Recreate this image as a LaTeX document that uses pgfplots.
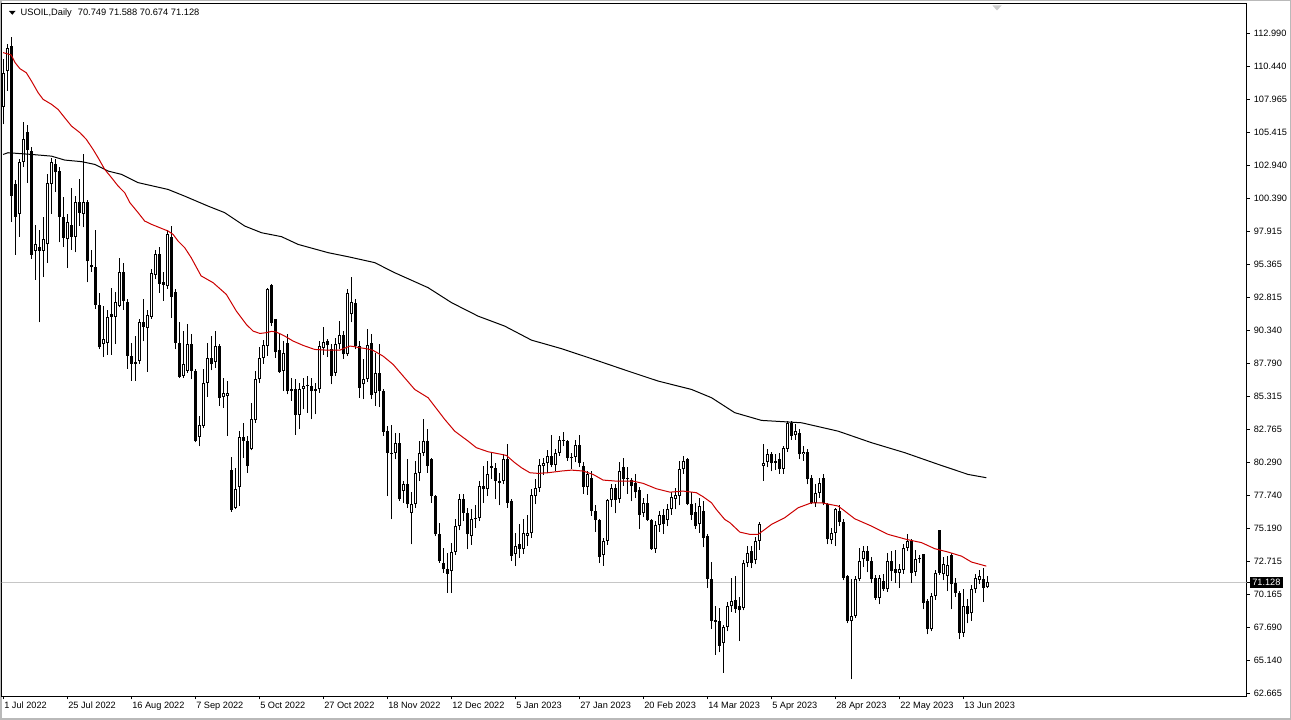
\documentclass[border=0pt]{standalone}
\usepackage{pgfplots}
\pgfplotsset{compat=1.18}
\usepackage{pgfplotstable}
\usepackage{fontspec}
\setmainfont{Liberation Sans}
\definecolor{maRed}{RGB}{204,0,0}

\pgfplotstableread{
i o h l c
0 107.40 111.00 106.05 110.00
1 110.10 112.15 108.60 111.90
2 112.00 112.70 98.60 100.60
3 101.50 101.80 96.10 99.00
4 99.20 103.40 97.50 103.15
5 103.20 106.20 102.80 104.90
6 105.50 106.00 101.60 104.10
7 104.00 104.30 95.80 96.10
8 96.40 98.40 94.20 96.90
9 96.70 98.00 90.95 96.40
10 96.40 99.00 94.40 97.30
11 96.90 102.30 95.50 101.60
12 101.50 103.50 99.20 103.15
13 103.00 103.40 100.90 102.40
14 102.50 102.80 97.05 99.00
15 99.00 100.50 96.70 97.40
16 97.30 99.20 95.10 98.60
17 98.40 101.20 96.50 97.50
18 97.50 100.60 96.30 100.10
19 100.10 101.90 98.30 99.30
20 99.20 103.80 98.20 100.10
21 100.10 100.30 94.00 95.60
22 95.30 96.50 94.80 95.20
23 95.20 98.00 92.00 92.30
24 92.30 93.20 88.90 89.05
25 89.30 92.20 88.30 89.70
26 89.40 91.90 88.50 91.40
27 91.60 93.60 88.50 91.40
28 91.40 93.30 89.30 92.50
29 92.20 95.90 92.10 94.80
30 94.80 95.50 91.90 92.60
31 92.50 92.70 87.40 88.40
32 88.40 89.40 86.50 87.80
33 87.80 89.90 86.50 87.90
34 88.00 91.20 87.80 90.95
35 91.00 92.70 89.50 90.60
36 90.50 91.90 87.20 91.50
37 91.40 95.00 91.20 94.70
38 94.60 96.50 94.30 96.20
39 96.20 96.70 93.20 93.90
40 94.00 94.80 92.60 93.80
41 93.70 98.00 93.50 97.70
42 97.50 98.30 91.30 92.90
43 93.30 93.50 88.90 89.40
44 89.40 90.95 86.70 86.80
45 86.90 90.30 86.70 87.80
46 87.25 90.80 87.10 89.30
47 89.30 90.05 86.60 87.25
48 87.25 87.40 81.80 81.90
49 82.24 83.80 81.50 83.10
50 83.05 87.40 82.90 86.35
51 86.35 89.35 85.30 88.26
52 88.26 89.90 87.30 87.75
53 87.93 90.30 87.50 89.15
54 89.15 89.30 84.60 85.20
55 85.30 86.70 84.45 85.60
56 85.34 86.50 82.30 85.54
57 79.67 80.70 76.50 76.64
58 76.82 79.87 76.70 78.27
59 78.42 82.67 76.95 82.24
60 82.24 83.30 80.60 81.90
61 81.90 82.30 79.50 80.00
62 81.27 84.80 81.20 83.60
63 83.50 87.24 83.30 86.66
64 86.60 89.10 86.30 88.26
65 88.26 89.60 87.80 89.20
66 89.15 93.60 88.40 93.47
67 93.80 93.85 90.67 90.93
68 91.18 91.20 88.26 88.69
69 88.82 90.17 87.10 87.19
70 87.24 89.53 85.72 88.64
71 89.35 90.04 85.46 85.72
72 85.85 86.74 84.96 85.72
73 85.85 86.60 82.40 83.89
74 83.89 86.35 82.80 85.85
75 85.90 86.74 84.32 86.10
76 86.10 86.86 84.07 86.08
77 86.10 86.74 83.56 85.72
78 85.72 86.35 83.94 85.85
79 85.85 89.53 85.60 89.15
80 89.02 90.62 88.50 89.45
81 89.53 89.66 88.30 89.20
82 88.90 89.28 86.23 86.86
83 87.12 89.80 86.90 89.28
84 89.28 91.06 88.90 89.96
85 89.96 90.30 88.20 88.51
86 88.51 93.52 88.39 93.22
87 91.56 94.40 90.95 92.48
88 92.45 92.70 88.90 89.15
89 89.15 89.53 85.20 85.97
90 86.23 88.13 85.08 86.60
91 86.60 90.42 86.40 89.20
92 89.35 90.04 85.08 85.39
93 85.60 88.60 84.60 87.12
94 87.12 89.28 84.50 85.70
95 85.72 85.85 82.30 82.60
96 82.67 83.05 77.70 81.02
97 81.00 83.10 75.93 80.95
98 81.02 82.54 80.50 81.78
99 81.78 82.54 77.33 77.46
100 78.09 78.85 77.20 78.60
101 78.60 80.50 76.80 77.08
102 76.44 78.00 74.03 77.08
103 77.08 80.38 76.82 79.49
104 79.49 81.90 78.85 81.02
105 81.02 83.56 80.76 81.90
106 81.90 82.80 79.50 80.00
107 80.51 80.64 77.20 77.71
108 77.71 77.80 74.66 74.79
109 74.80 75.68 72.63 72.76
110 72.63 73.77 71.87 72.12
111 72.12 73.40 70.34 71.80
112 71.99 74.15 70.34 73.44
113 73.44 75.93 73.20 75.42
114 75.42 77.84 75.10 77.51
115 77.51 77.84 75.80 76.44
116 76.44 76.82 73.65 74.79
117 74.66 76.70 74.00 75.93
118 75.93 77.00 75.30 76.06
119 76.06 78.85 75.80 78.47
120 78.47 80.00 77.20 78.22
121 78.22 80.38 77.70 79.36
122 80.00 81.00 79.00 79.87
123 79.87 80.20 77.46 78.85
124 78.85 79.50 77.00 78.70
125 78.85 80.89 78.60 80.51
126 80.56 81.65 76.82 77.20
127 77.33 77.50 72.76 73.14
128 73.27 74.90 72.37 73.90
129 74.03 75.55 73.00 73.65
130 73.65 75.93 73.30 74.90
131 74.70 76.30 73.90 74.90
132 74.86 78.22 74.50 77.76
133 77.71 78.98 77.07 78.35
134 78.35 80.50 78.00 80.05
135 80.00 80.60 79.30 80.20
136 80.20 81.20 79.50 80.80
137 80.80 82.40 79.90 80.10
138 80.10 81.30 79.60 81.00
139 81.00 82.30 80.80 82.00
140 82.00 82.60 81.50 81.90
141 81.90 82.00 80.40 80.60
142 80.60 81.00 79.80 80.70
143 80.70 82.00 80.30 81.60
144 81.60 82.40 79.90 80.20
145 80.00 80.30 77.90 78.40
146 78.40 79.60 77.80 79.40
147 79.10 79.60 76.20 76.60
148 76.60 77.00 75.00 75.90
149 75.90 76.00 72.60 73.10
150 73.20 74.50 72.40 74.30
151 74.30 77.50 74.00 77.40
152 77.40 78.60 76.90 78.35
153 78.35 78.60 76.40 77.40
154 77.50 80.30 77.20 79.60
155 79.90 80.60 78.50 79.00
156 79.00 79.90 77.90 79.10
157 78.90 79.10 77.30 78.50
158 78.70 79.40 77.60 78.00
159 78.20 78.40 75.20 76.30
160 76.40 77.60 76.10 77.20
161 77.15 77.85 75.80 75.90
162 75.90 76.00 73.60 73.65
163 73.65 75.80 73.40 75.50
164 75.50 76.60 75.00 76.30
165 76.30 76.70 74.80 75.55
166 75.90 77.10 75.40 76.70
167 76.70 78.00 76.30 77.66
168 77.50 78.30 76.70 77.76
169 77.70 80.40 77.00 79.75
170 79.75 80.80 79.40 80.40
171 80.50 80.60 77.00 77.10
172 77.10 78.00 75.90 76.30
173 76.50 77.20 75.20 75.40
174 75.55 77.60 74.90 76.95
175 76.60 77.30 73.80 74.50
176 74.66 74.80 70.70 71.40
177 71.40 72.70 67.60 68.20
178 68.26 69.30 65.60 68.13
179 68.20 69.20 65.80 66.30
180 66.50 67.90 64.24 67.70
181 67.70 69.60 67.40 69.30
182 69.30 71.50 68.90 69.70
183 69.80 71.60 68.80 69.10
184 69.30 70.00 66.65 69.00
185 69.20 72.80 69.00 72.60
186 72.60 73.90 72.30 73.40
187 73.50 73.90 72.20 72.60
188 72.80 74.60 72.50 74.30
189 74.30 75.70 73.60 75.55
190 80.00 81.65 78.86 80.26
191 80.30 81.30 79.90 80.89
192 80.89 81.10 79.60 80.20
193 80.26 80.90 79.70 80.38
194 80.51 81.00 79.40 79.80
195 79.80 81.50 79.40 81.40
196 81.32 83.43 81.10 83.30
197 83.30 83.43 82.00 82.29
198 82.34 83.20 82.00 82.67
199 82.54 82.80 80.51 80.89
200 80.90 81.50 80.40 81.07
201 81.07 81.27 78.60 78.98
202 79.11 79.30 77.10 77.20
203 77.15 78.60 76.90 77.97
204 77.97 79.11 77.60 78.73
205 79.11 79.40 77.00 77.20
206 77.08 77.20 74.03 74.40
207 74.36 75.30 74.03 74.87
208 74.92 76.82 73.90 76.70
209 76.60 77.00 75.40 75.73
210 75.73 76.00 71.30 71.49
211 71.61 71.70 68.00 68.18
212 68.18 71.36 63.73 68.56
213 68.56 71.60 68.40 71.36
214 71.36 73.77 71.20 72.76
215 72.88 73.90 72.30 73.52
216 73.52 73.90 71.90 72.76
217 72.76 73.10 71.10 71.36
218 71.49 71.70 69.80 69.96
219 69.96 71.70 69.45 71.49
220 71.23 71.80 70.50 70.60
221 70.60 73.39 70.40 72.76
222 72.76 73.50 71.20 71.99
223 72.12 73.60 71.10 71.87
224 71.87 72.50 70.70 72.12
225 72.07 74.03 71.80 73.77
226 73.77 74.79 73.50 74.28
227 74.28 74.40 71.10 71.87
228 71.92 73.60 71.60 72.88
229 72.90 73.20 72.60 73.00
230 73.26 73.30 69.07 69.57
231 69.70 69.90 67.16 67.55
232 67.55 70.30 67.40 70.09
233 70.09 72.10 69.80 71.87
234 75.12 75.12 71.70 71.87
235 71.74 73.10 71.30 72.50
236 71.61 73.14 70.47 72.42
237 73.19 73.40 69.07 70.98
238 71.10 71.50 70.00 70.34
239 70.34 70.50 66.79 67.30
240 67.30 70.60 67.00 69.32
241 69.32 69.90 68.00 68.69
242 68.77 70.90 68.20 70.60
243 70.60 71.80 70.30 71.49
244 71.30 72.10 71.00 71.61
245 71.36 72.25 69.63 70.72
246 70.749 71.588 70.674 71.128
}\candles

\pgfplotstableread{
i ma
0 111.52
2 111.35
3 110.76
4.2 110.30
5.8 109.99
7.1 109.35
8.75 108.47
10 107.96
12.1 107.58
13.75 107.19
15.4 106.56
17.1 105.92
19.2 105.42
20.8 104.91
22.5 104.14
23.75 103.51
25.4 102.62
27.1 101.99
28.75 101.35
30.4 100.84
31.7 100.08
33.75 99.32
35.4 98.68
37.1 98.43
39.6 98.12
41.25 97.92
42.5 97.66
43.75 97.15
45.4 96.65
47 95.90
49.5 94.50
52.5 93.98
55.8 93.09
58.3 91.82
60.8 90.80
62.5 90.29
64.2 90.11
65.8 90.17
67.1 90.27
68.3 90.22
70.4 89.91
72.5 89.53
75 89.20
77.9 88.89
80.8 88.84
84.2 88.84
86.7 89.15
87.9 89.10
89.2 89.02
90.8 88.95
92.5 88.82
95 88.38
97.5 87.75
102.9 85.84
106.25 85.21
110.4 83.56
112.9 82.66
116.25 81.90
118.3 81.40
121.25 81.09
124.6 80.89
125.8 80.81
127.9 80.26
129.6 79.87
131.7 79.49
133.75 79.44
136.25 79.49
139.6 79.62
142.1 79.69
145 79.62
147.5 79.36
150 78.93
153.3 78.85
157.5 78.85
160 78.68
163.3 78.27
166.7 78.01
170 78.09
173.3 77.97
175 77.66
177.1 77.20
178.3 76.69
180.4 75.93
181.7 75.68
184.2 74.96
186.7 74.79
188.75 74.79
192.1 75.55
195.4 76.06
198.75 76.82
202.1 77.20
204.6 77.20
208.75 76.95
210.4 76.57
212.9 75.98
217.1 75.42
221.25 74.79
225.8 74.41
229.6 74.16
232.9 73.70
236.25 73.44
239.6 73.13
242.1 72.68
245.8 72.37
}\maFifty

\pgfplotstableread{
i ma
0 103.76
1.25 103.89
7.1 103.76
12.1 103.63
15.4 103.33
19.6 103.21
22.9 103.00
26.25 102.49
29.6 102.24
33.75 101.61
41.25 101.09
45.4 100.58
51.25 99.82
55.4 99.32
60.4 98.30
64.6 97.79
69.6 97.49
73.75 96.90
81.25 96.27
86.25 95.96
92.9 95.51
97.9 94.74
106.25 93.60
112.1 92.46
118.75 91.43
125.4 90.67
132.1 89.60
139.6 88.95
147.1 88.19
156.25 87.24
163.75 86.48
172.1 85.84
177.1 85.21
182.9 84.07
189.6 83.48
199.6 83.30
208.75 82.66
217.1 81.78
225.4 81.02
233.75 80.13
241.25 79.36
245.8 79.11
}\maTwoHundred

\begin{document}
\begin{tikzpicture}[x=1pt,y=1pt]
\path[use as bounding box] (0,0) rectangle (1291,720);
\fill[white] (0,0) rectangle (1291,720);
\draw[gray!55, line width=1.5pt] (0.75,0.75) rectangle (1290.25,719.25);
\begin{axis}[
  name=ax,
  at={(4,18)}, anchor=south west,
  scale only axis, width=1245pt, height=693pt,
  xmin=-0.375, xmax=310.875, ymin=62.437, ymax=115.277,
  axis line style={black, line width=1pt},
  tick align=outside,
  major tick length=3pt,
  tick style={black, line width=1pt},
  xtick pos=left, ytick pos=right, yticklabel pos=right,
  xtick={0,16,32,48,64,80,96,112,128,144,160,176,192,208,224,240},
  xticklabels={1 Jul 2022,25 Jul 2022,16 Aug 2022,7 Sep 2022,5 Oct 2022,27 Oct 2022,18 Nov 2022,12 Dec 2022,5 Jan 2023,27 Jan 2023,20 Feb 2023,14 Mar 2023,5 Apr 2023,28 Apr 2023,22 May 2023,13 Jun 2023},
  ytick={112.99,110.4738,107.9576,105.4414,102.9252,100.409,97.8928,95.3766,92.8604,90.3442,87.828,85.3118,82.7956,80.2794,77.7632,75.247,72.7308,70.2146,67.6984,65.1822,62.666},
  yticklabels={112.990,110.440,107.965,105.415,102.940,100.390,97.915,95.365,92.815,90.340,87.790,85.315,82.765,80.290,77.740,75.190,72.715,70.165,67.690,65.140,62.665},
  tick label style={font=\fontsize{9.2}{11}\selectfont, black},
  xticklabel style={anchor=north west, inner xsep=1pt, inner ysep=2pt},
  yticklabel style={anchor=west, inner xsep=2pt, xshift=2pt},
  extra y ticks={71.128},
  extra y tick labels={71.128},
  extra y tick style={yticklabel style={fill=black, text=white, inner xsep=2.5pt, inner ysep=2.5pt, xshift=-2pt}},
]
% current price line
\addplot[forget plot, color=gray!45, line width=1pt] coordinates {(-1,71.128) (312,71.128)};
% wicks
\addplot[forget plot, draw=none, mark=none,
  error bars/.cd, y dir=plus, y explicit, error mark=none,
  error bar style={draw=black, line width=1pt}]
  table[x=i, y=l, y error plus expr={\thisrow{h}-\thisrow{l}}] {\candles};
% bodies (black)
\addplot[forget plot, draw=none, mark=none,
  error bars/.cd, y dir=plus, y explicit, error mark=none,
  error bar style={draw=black, line width=3pt}]
  table[x=i, y expr={min(\thisrow{o},\thisrow{c})}, y error plus expr={max(abs(\thisrow{c}-\thisrow{o}),0.0763)}] {\candles};
% bull bodies (white inside)
\addplot[forget plot, draw=none, mark=none,
  error bars/.cd, y dir=plus, y explicit, error mark=none,
  error bar style={draw=white, line width=1pt}]
  table[x=i, y expr={\thisrow{o}+0.0763}, y error plus expr={(\thisrow{c}>\thisrow{o})*max(\thisrow{c}-\thisrow{o}-0.1526,0)}] {\candles};
% moving averages
\addplot[forget plot, color=black, line width=1pt, mark=none] table[x=i, y=ma] {\maTwoHundred};
\addplot[forget plot, color=maRed, line width=1pt, mark=none] table[x=i, y=ma] {\maFifty};
\end{axis}
% header
\fill[black] (9,709) -- (15.5,709) -- (12.25,705.2) -- cycle;
\node[anchor=west, inner sep=0pt, font=\fontsize{9.3}{11}\selectfont] at (20.5,707.3) {USOIL,Daily\hspace{6pt}70.749 71.588 70.674 71.128};
% chart shift marker
\fill[gray!40] (992.5,714.5) -- (1001.5,714.5) -- (997,709.5) -- cycle;
\end{tikzpicture}
\end{document}
